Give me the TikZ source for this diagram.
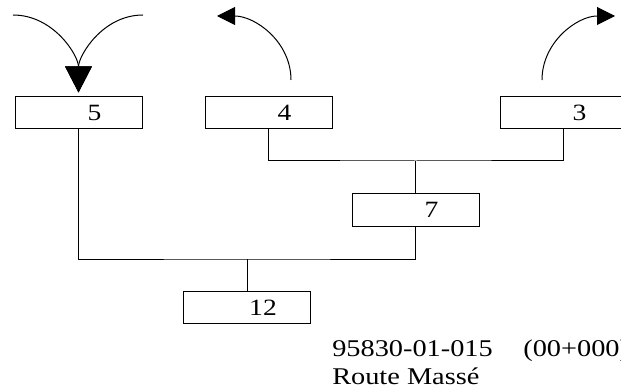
\documentclass[tikz,border=0pt]{standalone}
\usepackage{fontspec}
\setmainfont{Liberation Serif}[FakeStretch=1.18]
\usetikzlibrary{arrows.meta}
\tikzset{
  cell/.style={draw, line width=0.75, minimum width=95.25pt, minimum height=24pt, inner sep=0pt},
  num/.style={xshift=12pt, font=\fontsize{17.5}{20}\selectfont},
  link/.style={line width=0.75},
  bigtip/.style={-{Triangle[length=19.5pt,width=20pt]}, shorten >=3pt},
  smalltip/.style={-{Triangle[length=13.5pt,width=13.5pt]}},
  caption/.style={anchor=base west, inner sep=0pt, font=\fontsize{18}{20}\selectfont}
}
\begin{document}
\begin{tikzpicture}[x=0.75pt,y=0.75pt,yscale=-1,xscale=1]
\useasboundingbox (0,0) rectangle (621,392);
% Boxes
\node[cell, label={[num]center:5}] (b5) at (78.5,113) {};
\node[cell, label={[num]center:4}] (b4) at (268.5,113) {};
\node[cell, label={[num]center:3}] (b3) at (563.5,113) {};
\node[cell, label={[num]center:7}] (b7) at (415.5,210) {};
\node[cell, label={[num]center:12}] (b12) at (247,307.5) {};
% Junctions
\coordinate (j1) at (415.5,161);
\coordinate (j2) at (247,259);
%Straight Lines
\draw[link] (b4.south) |- (j1) -| (b3.south);
\draw[link] (j1) -- (b7.north);
\draw[link] (b5.south) |- (j2) -| (b7.south);
\draw[link] (j2) -- (b12.north);
% Curved arrows
\coordinate (in1) at (13,15);
\coordinate (in2) at (143,15);
\coordinate (s4) at (291,80);
\coordinate (out4) at (217,16);
\coordinate (s3) at (542,80);
\coordinate (out3) at (615,16);
\draw[link, bigtip] (in1) to[out=0, in=-90] (b5.north);
\draw[link, bigtip] (in2) to[out=180, in=-90] (b5.north);
\draw[link, smalltip] (s4) to[out=-90, in=0] (out4);
\draw[link, smalltip] (s3) to[out=-90, in=180] (out3);
% Text Node
\node[caption] (code) at (332,356) {95830-01-015\hspace{23pt}(00+000)};
% Text Node
\node[caption] (route) at (332,384) {Route Massé};
\end{tikzpicture}
\end{document}
